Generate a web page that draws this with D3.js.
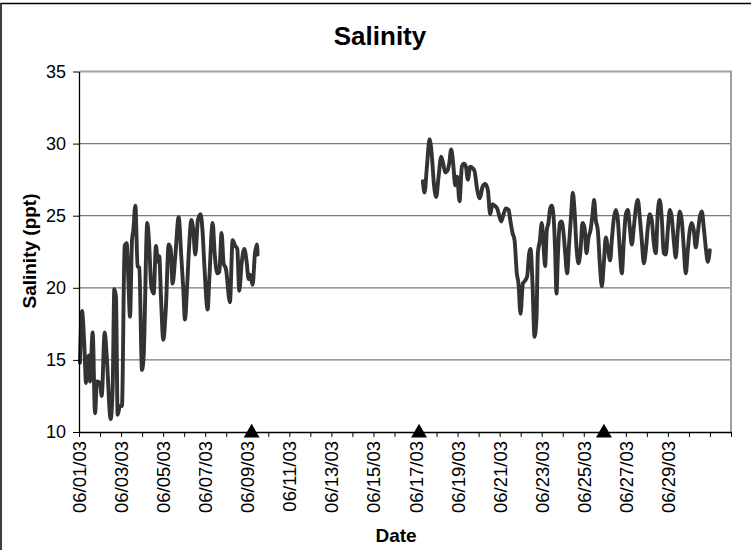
<!DOCTYPE html>
<html>
<head>
<meta charset="utf-8">
<script src="https://cdn.jsdelivr.net/npm/d3@7"></script>
<style>
html,body{margin:0;padding:0;background:#fff;}
svg{display:block;}
text{font-family:"Liberation Sans",Arial,sans-serif;}
</style>
</head>
<body>
<svg id="chart" width="751" height="550"></svg>
<script>
// ---- data (hours since 06/01/03 00:00, salinity in ppt) ----
const hours1 = [1.1,3.4,6.1,8.0,11.0,12.5,15.6,18.3,20.5,24.0,25.9,29.3,31.6,36.1,38.4,40.3,42.2,44.1,46.8,49.0,52.1,54.4,56.3,58.2,60.5,62.0,64.3,66.9,68.8,71.9,73.8,77.9,79.8,82.5,85.2,87.8,90.1,91.6,93.5,96.2,99.2,102.3,104.6,106.8,109.9,113.7,116.7,119.0,120.9,123.2,125.9,128.1,130.4,132.7,135.7,138.8,141.1,143.0,146.8,148.7,152.5,154.8,157.8,160.1,162.7,165.0,167.7,172.2,175.3,178.3,180.6,182.9,185.6,188.6,191.3,193.5,195.4,198.1,200.8,203.0,203.8];
const sal1 = [14.8,18.4,16.0,13.4,15.3,13.5,16.9,11.3,13.5,13.4,12.5,16.9,15.3,10.9,13.0,19.9,19.4,11.2,11.8,11.8,22.9,23.1,20.6,18.0,23.3,24.0,25.7,21.5,21.4,14.3,15.3,24.5,23.3,20.1,19.6,22.9,21.8,22.2,19.4,16.4,18.7,23.0,22.7,20.3,22.2,24.9,22.2,19.9,17.8,19.9,23.1,24.7,24.0,22.3,24.7,25.1,23.8,21.6,18.5,20.6,24.5,22.4,21.0,21.1,23.8,21.7,21.3,19.0,23.3,22.9,22.7,19.8,21.7,22.7,21.8,20.6,20.9,20.2,22.4,23.0,22.3];

const hours2 = [392.4,394.3,397.0,400.0,402.7,405.0,407.6,410.3,413.3,415.6,417.9,420.2,422.4,424.7,427.0,429.3,431.6,434.2,436.9,439.2,441.5,443.7,446.4,449.1,451.3,454.4,457.4,460.5,463.5,466.5,469.2,471.9,474.2,477.2,479.5,481.8,484.4,487.1,490.1,492.4,494.7,497.0,499.6,501.5,503.8,506.5,509.1,511.4,513.7,515.2,517.5,519.8,522.1,523.6,525.9,528.1,530.4,531.9,533.8,535.7,537.6,539.5,541.8,543.3,544.9,546.4,548.7,550.6,552.9,554.8,557.0,559.3,561.6,563.5,565.4,567.7,570.0,572.3,574.5,576.8,579.1,581.4,583.7,586.0,587.8,589.7,592.0,594.3,596.6,598.9,601.1,603.4,606.1,608.0,610.3,612.6,614.9,617.1,619.4,621.7,624.0,626.3,628.5,630.8,633.1,635.4,637.7,639.9,642.2,644.5,646.8,649.1,651.3,653.6,655.9,658.2,660.5,662.7,665.0,667.3,669.6,671.9,674.2,676.4,678.7,681.0,683.3,685.6,687.8,690.1,692.4,694.7,697.0,699.2,701.5,703.8,706.1,708.4,710.7,712.9,715.2,717.5,719.8];
const sal2 = [27.4,26.6,28.4,30.3,29.1,27.2,26.3,27.7,29.1,28.6,28.0,28.1,28.6,29.6,28.6,27.1,27.7,26.0,28.4,28.6,28.4,27.5,28.4,28.3,28.1,26.8,26.2,27.0,27.2,26.8,25.1,25.8,25.7,25.5,25.0,24.6,25.1,25.5,25.4,24.6,23.8,23.3,21.0,20.3,18.2,20.3,20.5,20.8,22.4,22.7,20.3,16.6,18.0,22.4,23.3,24.5,22.6,21.5,24.0,24.5,25.5,25.7,24.7,22.6,19.6,22.1,24.5,24.6,23.8,22.4,21.0,23.1,25.1,26.6,25.4,22.8,21.7,22.6,24.5,24.2,22.4,23.5,24.0,25.1,26.1,24.7,24.0,21.7,20.1,21.7,23.5,22.8,21.9,23.3,24.8,25.4,24.7,22.6,21.0,23.3,25.1,25.4,24.2,23.0,24.2,25.5,26.1,24.9,23.3,21.7,22.6,24.2,25.1,24.7,23.1,22.4,25.3,26.1,24.8,22.4,22.3,24.0,25.4,24.9,23.3,22.1,24.0,25.3,24.7,22.8,21.0,22.6,24.0,24.5,24.0,22.8,23.8,24.9,25.3,24.2,22.8,21.8,22.6];

const markerHours = [197, 388, 599];
const yTicks = [10, 15, 20, 25, 30, 35];
const titleText = "Salinity";
const yLabel = "Salinity (ppt)";
const xLabel = "Date";

// ---- drawing ----
const t0 = Date.UTC(2003, 5, 1);
const hToDate = h => new Date(t0 + h * 3600000);

const svg = d3.select("#chart");
const plotL = 79, plotR = 731, plotT = 71.5, plotB = 432;

const x = d3.scaleUtc().domain([new Date(t0), new Date(Date.UTC(2003, 6, 2))]).range([plotL, plotR]);
const y = d3.scaleLinear().domain([10, 35]).range([plotB, plotT]);

// outer frame
svg.append("rect").attr("x", 1).attr("y", 3.5).attr("width", 780).attr("height", 600)
  .attr("fill", "#fff").attr("stroke", "#000").attr("stroke-width", 1.5);

// gridlines
svg.append("g").selectAll("line").data(yTicks.filter(v => v > 10 && v < 35)).join("line")
  .attr("x1", plotL).attr("x2", plotR).attr("y1", d => y(d)).attr("y2", d => y(d))
  .attr("stroke", "#7a7a7a").attr("stroke-width", 1.2);

// plot border top/right
svg.append("path")
  .attr("d", `M${plotL},${y(35)}H${plotR}V${plotB}`)
  .attr("fill", "none").attr("stroke", "#a0a0a0").attr("stroke-width", 2);

// series
const line = d3.line().x(d => x(hToDate(d[0]))).y(d => y(d[1])).curve(d3.curveMonotoneX);
[d3.zip(hours1, sal1), d3.zip(hours2, sal2)].forEach(s => {
  svg.append("path").datum(s).attr("d", line)
    .attr("fill", "none").attr("stroke", "#333333").attr("stroke-width", 3.9)
    .attr("stroke-linejoin", "round").attr("stroke-linecap", "round");
});

// x axis
const dayTicks = d3.utcDay.range(new Date(t0), new Date(Date.UTC(2003, 6, 2, 1)));
const fmt = d3.utcFormat("%m/%d/%y");
const labelDays = new Set(d3.range(1, 30, 2));
const xAxis = d3.axisBottom(x).tickValues(dayTicks).tickSize(5).tickSizeOuter(0)
  .tickFormat(d => (d.getUTCMonth() === 5 && labelDays.has(d.getUTCDate())) ? fmt(d) : "");
const gx = svg.append("g").attr("transform", `translate(0,${plotB})`).call(xAxis);
gx.select(".domain").attr("stroke", "#000").attr("stroke-width", 1.3);
gx.selectAll(".tick line").attr("stroke", "#000").attr("stroke-width", 1);
gx.selectAll(".tick text")
  .attr("font-size", 18.5).attr("fill", "#000")
  .attr("transform", "rotate(-90)")
  .attr("text-anchor", "end").attr("x", -9).attr("y", 0).attr("dy", "0.35em");

// y axis
const yAxis = d3.axisLeft(y).tickValues(yTicks).tickSize(6).tickSizeOuter(0).tickFormat(d3.format("d"));
const gy = svg.append("g").attr("transform", `translate(${plotL},0)`).call(yAxis);
gy.select(".domain").attr("stroke", "#000").attr("stroke-width", 1.3);
gy.selectAll(".tick line").attr("stroke", "#000");
gy.selectAll(".tick text").attr("font-size", 18).attr("fill", "#000").attr("x", -13);

// markers
const tri = d3.symbol().type(d3.symbolTriangle).size(110);
svg.append("g").selectAll("path").data(markerHours).join("path")
  .attr("d", tri)
  .attr("transform", d => `translate(${x(hToDate(d))},${plotB + 1})`)
  .attr("fill", "#000");

// titles
svg.append("text").attr("x", 380).attr("y", 45).attr("text-anchor", "middle")
  .attr("font-size", 26).attr("font-weight", "bold").text(titleText);
svg.append("text").attr("transform", `translate(36,251) rotate(-90)`).attr("text-anchor", "middle")
  .attr("font-size", 19).attr("font-weight", "bold").text(yLabel);
svg.append("text").attr("x", 396).attr("y", 542).attr("text-anchor", "middle")
  .attr("font-size", 19).attr("font-weight", "bold").text(xLabel);
</script>
</body>
</html>
